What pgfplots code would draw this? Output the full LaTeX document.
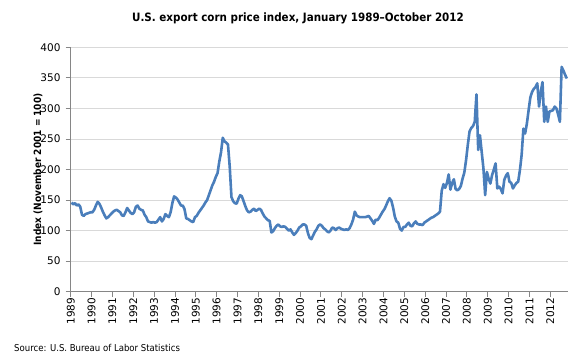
\documentclass[border=0pt]{standalone}
\usepackage{pgfplots}
\usepackage{pgfplotstable}
\pgfplotsset{compat=1.18}
\usepackage{fontspec}
\setmainfont{DejaVu Sans}
\newfontfamily\condfont{DejaVu Sans Condensed}
\definecolor{lineblue}{HTML}{4A7EBB}
\definecolor{gridgray}{HTML}{D9D9D9}
\definecolor{axisgray}{HTML}{868686}

% U.S. export corn price index, monthly Jan 1989 - Oct 2012
\pgfplotstableread{
v
146
143
145
141
143
139
126
124
127
128
129
130
130
134
141
147
144
138
131
125
120
122
125
128
131
133
134
132
130
125
124
130
137
133
129
127
130
139
141
136
134
133
126
122
115
114
113
114
113
114
118
122
115
119
127
124
122
130
145
156
154
151
146
141
141
135
120
119
117
115
114
122
124
129
133
137
141
146
150
158
166
174
180
188
194
213
228
252
246
244
241
205
155
148
145
144
152
158
156
148
140
133
130
131
134
136
132
134
136
134
128
123
120
117
116
97
99
104
108
110
107
106
107
106
103
100
102
97
93
96
100
105
107
110
110
108
96
88
86
92
98
102
108
110
108
104
102
99
97
100
105
104
101
104
105
103
102
101
102
101
104
110
118
131
125
123
122
122
122
122
123
124
120
116
111
118
117
121
126
131
135
141
148
153
149
138
123
115
113
103
100
106
106
110
113
108
107
112
115
111
110
110
109
113
115
117
119
121
122
124
126
128
131
165
176
170
178
192
167
178
184
168
166
168
173
185
195
215
240
262
268
271
278
323
232
256
229
202
158
196
185
177
191
200
210
169
172
168
161
183
190
194
180
178
169
174
178
180
199
224
267
259
275
297
318
327
332
335
341
303
327
343
278
303
278
295
296
297
303
300
290
278
368
362
355
349
}\corndata

\begin{document}
\begin{tikzpicture}[x=1pt,y=1pt]
\path[use as bounding box] (-70.7,-68.3) rectangle (509.3,291.7);
\begin{axis}[
  at={(0,0)}, anchor=south west,
  scale only axis, width=497pt, height=244.4pt,
  xmin=-0.5, xmax=285.5, ymin=0, ymax=400,
  xtick={-0.5,11.5,...,275.5},
  xticklabels={1989,1990,1991,1992,1993,1994,1995,1996,1997,1998,1999,2000,2001,2002,2003,2004,2005,2006,2007,2008,2009,2010,2011,2012},
  ytick={0,50,...,400},
  ymajorgrids, grid style={gridgray, line width=0.9pt},
  axis x line*=bottom, axis y line*=left,
  axis line style={axisgray, line width=0.9pt, -},
  tick style={axisgray, line width=0.9pt},
  tick align=outside, major tick length=5pt,
  x tick label style={rotate=90, anchor=east, inner sep=1pt, font=\fontsize{10.5}{12}\selectfont},
  y tick label style={inner sep=1pt, xshift=-4pt, font=\fontsize{10.5}{12}\selectfont},
  /pgf/number format/assume math mode=true,
  clip=false,
]
\addplot[lineblue, line width=2.6pt, line join=round, no markers] table[x expr=\coordindex, y=v] {\corndata};
\end{axis}
\node[font=\condfont\bfseries\fontsize{11.5}{13}\selectfont] at (227.3,273.7) {U.S. export corn price index, January 1989–October 2012};
\node[rotate=90, font=\condfont\bfseries\fontsize{10}{12}\selectfont] at (-32.7,122.2) {Index (November 2001 = 100)};
\node[anchor=west, inner sep=0pt, font=\condfont\fontsize{9.5}{11}\selectfont] at (-56.7,-56.3) {Source: U.S. Bureau of Labor Statistics};
\end{tikzpicture}
\end{document}
